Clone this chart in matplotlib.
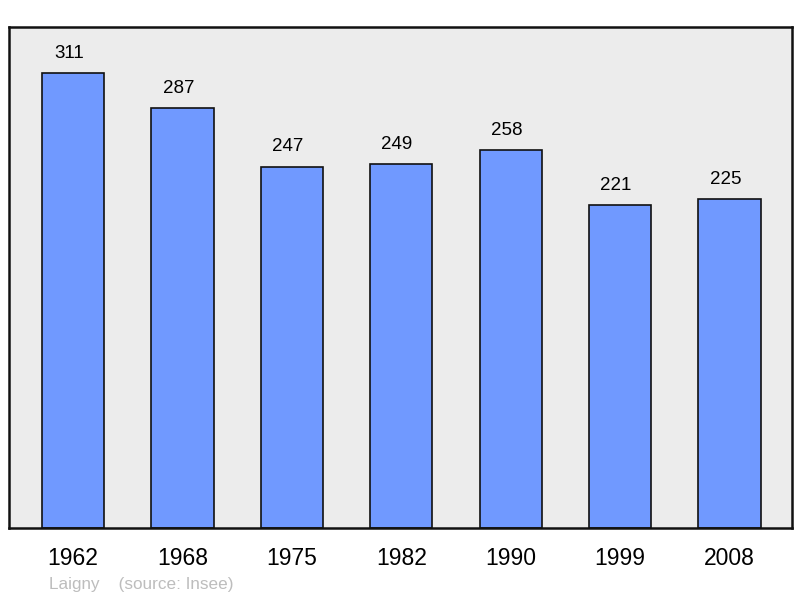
import matplotlib.pyplot as plt

plt.rcParams['font.family'] = ['Liberation Sans', 'DejaVu Sans']

# data
years = ["1962", "1968", "1975", "1982", "1990", "1999", "2008"]
population = [311, 287, 247, 249, 258, 221, 225]

fig = plt.figure(figsize=(8.0, 5.98), dpi=100)
ax = fig.add_axes([9 / 800, 70 / 598, 783 / 800, 501 / 598])
ax.set_facecolor("#ececec")

x = range(len(years))
bars = ax.bar(x, population, width=0.57, color="#7099ff", edgecolor="#111111", linewidth=1.2)

for b, v in zip(bars, population):
    ax.annotate(f"{v}", (b.get_x() + b.get_width() / 2, v), xytext=(-3, 8),
                textcoords="offset points", ha="center", va="bottom", fontsize=13.5)

ax.set_xlim(-0.585, 6.571)
ax.set_ylim(0, 342.4)
ax.set_xticks(list(x))
ax.set_xticklabels(years, fontsize=16.5)
ax.tick_params(axis="x", length=0, pad=14)
ax.set_yticks([])
for s in ax.spines.values():
    s.set_linewidth(1.8)
    s.set_color("#111111")

fig.text(49 / 800, 1 - 584 / 598, "Laigny    (source: Insee)", fontsize=12.3,
         color="#bdbdbd", ha="left", va="center")

fig.savefig("out.png", dpi=100)
